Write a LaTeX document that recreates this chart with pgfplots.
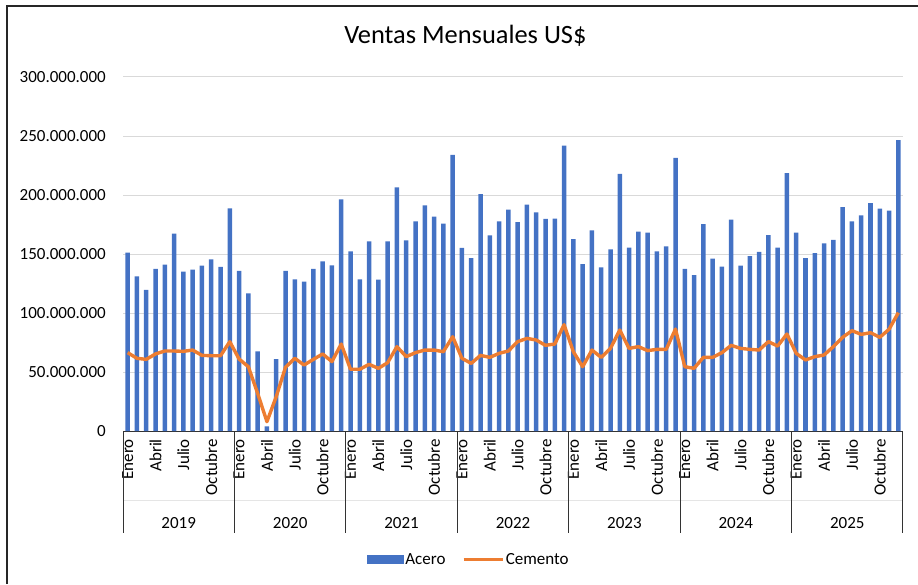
\documentclass[border=0pt]{standalone}
\usepackage{fontspec}
\setmainfont{Carlito}
\usepackage{pgfplots}
\usepackage{pgfplotstable}
\pgfplotsset{compat=1.18}
\definecolor{acero}{HTML}{4472C4}
\definecolor{cemento}{HTML}{ED7D31}
\definecolor{gridc}{HTML}{D9D9D9}
\newcommand{\lab}{\fontsize{17}{20}\selectfont}
% values in millions of US$
\pgfplotstableread{
x a c
0 151.1 66.4
1 131.1 61.6
2 119.5 60.7
3 137.5 65.3
4 140.9 67.8
5 167.2 67.8
6 135.0 67.5
7 136.7 68.6
8 140.1 64.1
9 145.5 63.8
10 139.0 63.8
11 188.7 75.7
12 135.6 61.0
13 116.7 54.5
14 67.5 31.9
15 4.0 7.9
16 61.0 29.1
17 135.6 54.0
18 128.5 61.6
19 126.6 55.9
20 137.5 60.7
21 143.8 65.3
22 140.4 58.8
23 196.3 73.7
24 152.2 52.3
25 128.5 52.3
26 160.7 56.5
27 128.2 53.1
28 160.7 57.9
29 206.5 71.5
30 161.6 63.0
31 177.7 66.4
32 191.2 68.6
33 181.6 68.6
34 175.7 67.2
35 233.9 79.9
36 155.1 61.6
37 146.6 57.3
38 200.8 64.1
39 165.8 62.4
40 177.7 65.8
41 187.6 67.8
42 177.1 75.7
43 191.8 78.5
44 185.3 77.1
45 179.7 72.6
46 179.9 73.7
47 241.8 90.1
48 162.7 67.2
49 141.5 54.5
50 170.0 68.6
51 138.7 62.4
52 153.9 70.0
53 217.8 85.6
54 155.4 70.0
55 168.9 71.5
56 168.1 68.1
57 152.3 69.2
58 156.5 69.2
59 231.4 86.4
60 137.3 54.5
61 132.2 53.1
62 175.4 62.4
63 146.0 62.4
64 139.3 66.4
65 179.1 72.6
66 140.1 70.0
67 148.3 69.2
68 151.7 68.6
69 166.1 75.7
70 155.4 72.0
71 218.6 82.2
72 168.1 65.8
73 146.6 60.2
74 150.8 63.0
75 159.0 64.4
76 161.9 71.5
77 189.8 79.4
78 177.7 85.0
79 182.8 81.9
80 193.2 83.3
81 188.4 79.4
82 186.7 86.2
83 246.6 100.3
}\datatable
\begin{document}
\begin{tikzpicture}
\useasboundingbox (0,0) rectangle (918pt,584pt);
\draw[black!85, line width=1.3pt] (7pt,0pt) -- (7pt,578pt) -- (918pt,578pt);
\begin{axis}[
  at={(123pt,153pt)}, anchor=south west,
  scale only axis, width=780pt, height=354pt,
  xmin=-0.5, xmax=83.5, ymin=0, ymax=300,
  clip=false,
  axis x line*=bottom, axis y line*=left,
  x axis line style={black!80, line width=1pt, -},
  y axis line style={draw=none},
  ytick={0,50,...,300},
  yticklabels={0,50.000.000,100.000.000,150.000.000,200.000.000,250.000.000,300.000.000},
  ymajorgrids, grid style={gridc, line width=1pt},
  major tick length=0pt,
  yticklabel style={font=\lab, inner sep=0pt, anchor=east},
  yticklabel shift=17pt,
  xtick={0,3,...,81},
  xticklabels={Enero,Abril,Julio,Octubre,Enero,Abril,Julio,Octubre,Enero,Abril,Julio,Octubre,Enero,Abril,Julio,Octubre,Enero,Abril,Julio,Octubre,Enero,Abril,Julio,Octubre,Enero,Abril,Julio,Octubre},
  xticklabel style={font=\lab, rotate=90, anchor=east, inner sep=0pt},
  xticklabel shift=8pt,
  title={Ventas Mensuales US\$},
  title style={at={(0.439,1)}, anchor=base, yshift=27pt, font=\fontsize{26.4}{31}\selectfont, inner sep=0pt},
  legend style={at={(0.443,-0.363)}, anchor=center, draw=none, fill=none, font=\lab,
    legend columns=2, /tikz/every even column/.append style={column sep=15pt},
    nodes={inner xsep=1.5pt, inner ysep=0pt}},
]
\addplot[ybar, bar width=4.5pt, fill=acero, draw=none,
  legend image code/.code={\fill[acero] (0pt,-4.5pt) rectangle (37pt,4.5pt);}]
  table[x=x, y=a] {\datatable};
\addlegendentry{Acero}
\addplot[cemento, line width=3.4pt, line join=round, no marks,
  legend image code/.code={\draw[cemento, line width=3.4pt] (0pt,0pt) -- (39pt,0pt);}]
  table[x=x, y=c] {\datatable};
\addlegendentry{Cemento}
% category axis decoration
\draw[gray!20, line width=0.8pt] ([yshift=-69pt]axis cs:-0.5,0) -- ([yshift=-69pt]axis cs:83.5,0);
\draw[black!80, line width=1pt] (axis cs:-0.5,0) -- ([yshift=-102pt]axis cs:-0.5,0);
\draw[black!80, line width=1pt] (axis cs:11.5,0) -- ([yshift=-102pt]axis cs:11.5,0);
\draw[black!80, line width=1pt] (axis cs:23.5,0) -- ([yshift=-102pt]axis cs:23.5,0);
\draw[black!80, line width=1pt] (axis cs:35.5,0) -- ([yshift=-102pt]axis cs:35.5,0);
\draw[black!80, line width=1pt] (axis cs:47.5,0) -- ([yshift=-102pt]axis cs:47.5,0);
\draw[black!80, line width=1pt] (axis cs:59.5,0) -- ([yshift=-102pt]axis cs:59.5,0);
\draw[black!80, line width=1pt] (axis cs:71.5,0) -- ([yshift=-102pt]axis cs:71.5,0);
\draw[black!80, line width=1pt] (axis cs:83.5,0) -- ([yshift=-102pt]axis cs:83.5,0);
\node[font=\lab, yshift=-92pt] at (axis cs:5.5,0) {2019};
\node[font=\lab, yshift=-92pt] at (axis cs:17.5,0) {2020};
\node[font=\lab, yshift=-92pt] at (axis cs:29.5,0) {2021};
\node[font=\lab, yshift=-92pt] at (axis cs:41.5,0) {2022};
\node[font=\lab, yshift=-92pt] at (axis cs:53.5,0) {2023};
\node[font=\lab, yshift=-92pt] at (axis cs:65.5,0) {2024};
\node[font=\lab, yshift=-92pt] at (axis cs:77.5,0) {2025};
\end{axis}
\end{tikzpicture}
\end{document}
